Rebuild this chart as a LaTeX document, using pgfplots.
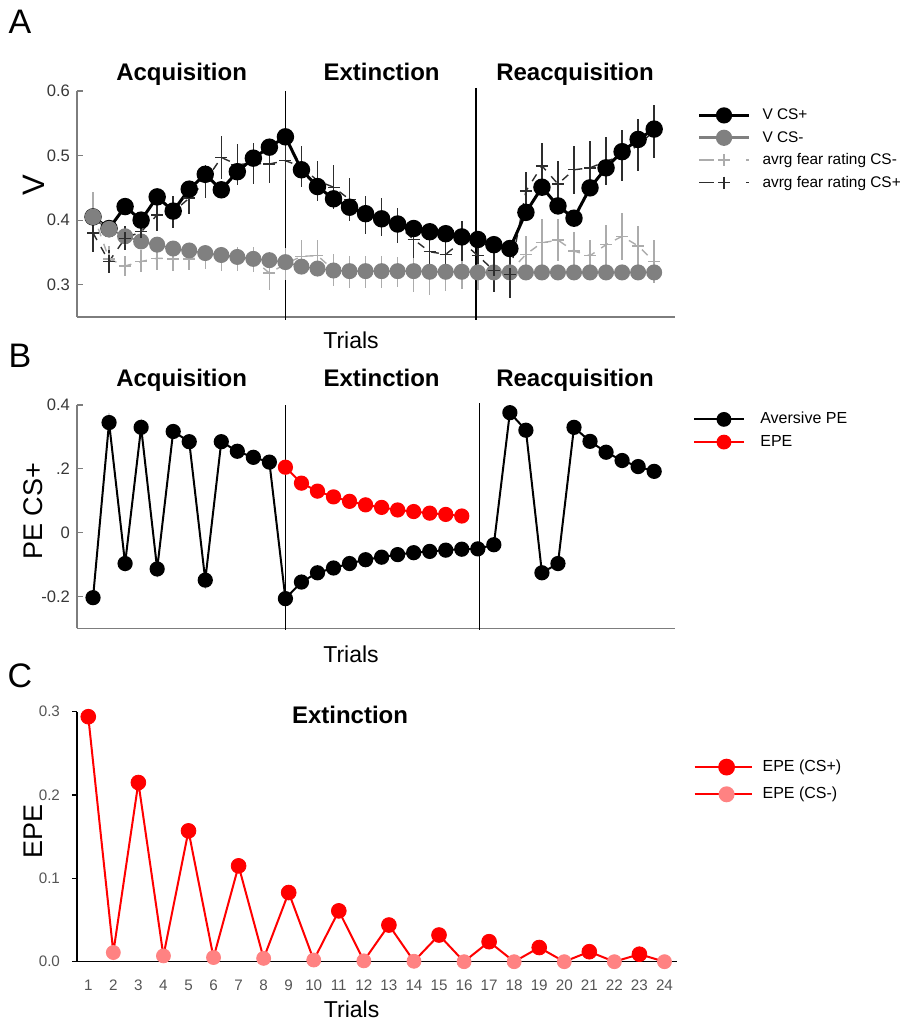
\documentclass[border=0pt]{standalone}
\usepackage{pgfplots}
\pgfplotsset{compat=1.18}
\usepackage{pgfplotstable}
\usepackage{fontspec}
\setmainfont{Liberation Sans}
\definecolor{vgray}{RGB}{128,128,128}
\definecolor{fearlight}{RGB}{172,172,172}
\definecolor{feardark}{RGB}{45,45,45}
\definecolor{pinkepe}{RGB}{255,130,130}
\definecolor{axgray}{RGB}{125,125,125}
\definecolor{ticklab}{RGB}{55,55,55}
\definecolor{ticklabC}{RGB}{85,85,85}

\pgfplotstableread{
t v
1 0.405
2 0.387
3 0.421
4 0.400
5 0.436
6 0.414
7 0.448
8 0.471
9 0.447
10 0.475
11 0.496
12 0.513
13 0.529
14 0.478
15 0.452
16 0.433
17 0.420
18 0.410
19 0.402
20 0.394
21 0.387
22 0.382
23 0.379
24 0.374
25 0.370
26 0.362
27 0.356
28 0.412
29 0.451
30 0.422
31 0.403
32 0.450
33 0.481
34 0.506
35 0.525
36 0.541
}\vplus

\pgfplotstableread{
t v
1 0.405
2 0.386
3 0.375
4 0.367
5 0.362
6 0.356
7 0.353
8 0.349
9 0.346
10 0.343
11 0.340
12 0.338
13 0.335
14 0.328
15 0.325
16 0.322
17 0.321
18 0.321
19 0.321
20 0.321
21 0.321
22 0.320
23 0.320
24 0.320
25 0.319
26 0.319
27 0.319
28 0.319
29 0.319
30 0.319
31 0.319
32 0.319
33 0.319
34 0.319
35 0.319
36 0.319
}\vminus

\pgfplotstableread{
t m e
1 0.380 0.030
2 0.336 0.018
3 0.372 0.019
4 0.382 0.018
5 0.408 0.025
6 0.413 0.025
7 0.434 0.025
8 0.460 0.025
9 0.497 0.034
10 0.486 0.032
11 0.488 0.032
12 0.487 0.030
13 0.492 0.030
14 0.483 0.032
15 0.461 0.031
16 0.451 0.034
17 0.432 0.034
18 0.408 0.030
19 0.405 0.030
20 0.392 0.027
21 0.370 0.028
22 0.351 0.031
23 0.347 0.027
24 0.367 0.031
25 0.345 0.035
26 0.322 0.034
27 0.316 0.037
28 0.445 0.030
29 0.484 0.035
30 0.456 0.035
31 0.478 0.037
32 0.481 0.041
33 0.491 0.037
34 0.500 0.039
35 0.516 0.040
36 0.538 0.041
}\fearplus

\pgfplotstableread{
t m e
1 0.410 0.034
2 0.340 0.020
3 0.329 0.016
4 0.336 0.017
5 0.341 0.018
6 0.340 0.019
7 0.340 0.017
8 0.343 0.018
9 0.340 0.019
10 0.340 0.019
11 0.339 0.019
12 0.318 0.026
13 0.332 0.025
14 0.344 0.025
15 0.345 0.025
16 0.323 0.025
17 0.320 0.025
18 0.320 0.025
19 0.320 0.025
20 0.320 0.023
21 0.315 0.027
22 0.315 0.031
23 0.318 0.027
24 0.320 0.027
25 0.322 0.030
26 0.322 0.030
27 0.320 0.030
28 0.347 0.028
29 0.365 0.036
30 0.369 0.032
31 0.352 0.030
32 0.345 0.025
33 0.362 0.031
34 0.375 0.036
35 0.360 0.031
36 0.336 0.033
}\fearminus

\pgfplotstableread{
t pe
1 -0.204
2 0.345
3 -0.097
4 0.330
5 -0.114
6 0.317
7 0.285
8 -0.149
9 0.285
10 0.255
11 0.236
12 0.221
13 -0.207
14 -0.155
15 -0.126
16 -0.111
17 -0.097
18 -0.085
19 -0.077
20 -0.069
21 -0.063
22 -0.059
23 -0.055
24 -0.052
25 -0.051
26 -0.038
27 0.376
28 0.321
29 -0.126
30 -0.097
31 0.330
32 0.286
33 0.252
34 0.226
35 0.207
36 0.192
}\avpe

\pgfplotstableread{
t epe
13 0.205
14 0.155
15 0.130
16 0.112
17 0.098
18 0.087
19 0.079
20 0.071
21 0.066
22 0.061
23 0.057
24 0.052
}\epeB

\pgfplotstableread{
t epe
1 0.294
2 0.011
3 0.215
4 0.007
5 0.157
6 0.005
7 0.115
8 0.004
9 0.083
10 0.002
11 0.061
12 0.001
13 0.044
14 0.0005
15 0.032
16 0.0
17 0.024
18 0.0
19 0.017
20 0.0
21 0.012
22 0.0
23 0.009
24 0.0
}\epeall

\pgfplotstableread{
t epe
1 0.294
3 0.215
5 0.157
7 0.115
9 0.083
11 0.061
13 0.044
15 0.032
17 0.024
19 0.017
21 0.012
23 0.009
}\epeplus

\pgfplotstableread{
t epe
2 0.011
4 0.007
6 0.005
8 0.004
10 0.002
12 0.001
14 0.0005
16 0.0
18 0.0
20 0.0
22 0.0
24 0.0
}\epeminus

\begin{document}
\begin{tikzpicture}
\path[use as bounding box] (0,0) rectangle (451pt,511pt);

% ---------------- Panel A ----------------
\begin{axis}[
  at={(38.5pt,352.5pt)}, anchor=south west,
  scale only axis, width=299pt, height=113pt,
  xmin=0, xmax=37.3, ymin=0.25, ymax=0.6,
  axis x line*=bottom, axis y line*=left,
  axis line style={-, axgray, line width=0.75pt},
  xtick=\empty, ytick={0.3,0.4,0.5,0.6}, yticklabels={0.3,0.4,0.5,0.6},
  tick align=inside, major tick length=3pt,
  tick style={axgray, line width=0.6pt},
  yticklabel style={font=\fontsize{8.3}{10}\selectfont, text=ticklab},
  clip=false,
  legend style={at={(1.037,0.927)}, anchor=north west, draw=none, fill=none,
    inner sep=0pt, font=\fontsize{7.7}{9.4}\selectfont, row sep=3.7pt,
    nodes={inner sep=0pt, text height=6pt, text depth=1.5pt},
    /tikz/every odd column/.append style={column sep=6pt}},
  legend cell align=left,
  legend image code/.code={\draw[mark repeat=2,mark phase=2,#1] plot coordinates {(0pt,0pt) (12.5pt,0pt) (25pt,0pt)};},
]
\addlegendimage{black, line width=1.5pt, mark=*, mark size=3.3pt}
\addlegendentry{V CS+}
\addlegendimage{vgray, line width=1.5pt, mark=*, mark size=3.3pt}
\addlegendentry{V CS-}
\addlegendimage{fearlight, line width=0.75pt, dash pattern=on 7.5pt off 16pt, mark=+, mark size=3pt, mark options={solid}}
\addlegendentry{avrg fear rating CS-}
\addlegendimage{feardark, line width=0.75pt, dash pattern=on 7.5pt off 16pt, mark=+, mark size=3pt, mark options={solid}}
\addlegendentry{avrg fear rating CS+}

\addplot[black, line width=0.8pt, forget plot] coordinates {(13,0.6) (13,0.245)};
\addplot[black, line width=0.8pt, forget plot] coordinates {(24.9,0.605) (24.9,0.245)};

\addplot[fearlight, line width=0.7pt, dash pattern=on 4pt off 4pt, mark=+, mark size=3pt,
  mark options={solid}, forget plot,
  error bars/.cd, y dir=both, y explicit, error mark=none,
  error bar style={fearlight, line width=0.75pt, solid}]
  table[x=t, y=m, y error=e] {\fearminus};

\addplot[vgray, line width=0.8pt, mark=*, mark size=3.6pt, forget plot] table[x=t,y=v] {\vminus};

\addplot[feardark, line width=0.7pt, dash pattern=on 4pt off 4pt, mark=+, mark size=3pt,
  mark options={solid}, forget plot,
  error bars/.cd, y dir=both, y explicit, error mark=none,
  error bar style={feardark, line width=0.75pt, solid}]
  table[x=t, y=m, y error=e] {\fearplus};

\addplot[black, line width=1.5pt, mark=*, mark size=3.6pt, forget plot] table[x=t,y=v] {\vplus};
\addplot[vgray, line width=0.8pt, mark=*, mark size=3.75pt, forget plot] coordinates {(1,0.405) (2,0.386)};
\end{axis}

% ---------------- Panel B ----------------
\begin{axis}[
  at={(38.5pt,196.85pt)}, anchor=south west,
  scale only axis, width=299pt, height=111.65pt,
  xmin=0, xmax=37.3, ymin=-0.3, ymax=0.4,
  axis x line*=bottom, axis y line*=left,
  axis line style={-, axgray, line width=0.75pt},
  xtick=\empty, ytick={-0.2,0,0.2,0.4}, yticklabels={-0.2,0,.2,0.4},
  tick align=inside, major tick length=3pt,
  tick style={axgray, line width=0.6pt},
  yticklabel style={font=\fontsize{8.3}{10}\selectfont, text=ticklab},
  clip=false,
  legend style={at={(1.030,0.971)}, anchor=north west, draw=none, fill=none,
    inner sep=0pt, font=\fontsize{8}{9.6}\selectfont, row sep=3.85pt,
    nodes={inner sep=0pt, text height=6pt, text depth=1.5pt},
    /tikz/every odd column/.append style={column sep=7.5pt}},
  legend cell align=left,
  legend image code/.code={\draw[mark repeat=2,mark phase=2,#1] plot coordinates {(0pt,0pt) (14.8pt,0pt) (25pt,0pt)};},
]
\addlegendimage{black, line width=1pt, mark=*, mark size=3.2pt}
\addlegendentry{Aversive PE}
\addlegendimage{red, line width=1pt, mark=*, mark size=3.2pt}
\addlegendentry{EPE}

\addplot[black, line width=0.7pt, forget plot] coordinates {(13,0.4) (13,-0.305)};
\addplot[black, line width=0.7pt, forget plot] coordinates {(25.1,0.405) (25.1,-0.305)};

\addplot[red, line width=1pt, mark=*, mark size=3.3pt, forget plot] table[x=t,y=epe] {\epeB};
\addplot[black, line width=1pt, mark=*, mark size=3.3pt, forget plot] table[x=t,y=pe] {\avpe};
\end{axis}

% ---------------- Panel C ----------------
\begin{axis}[
  at={(38.5pt,30.15pt)}, anchor=south west,
  scale only axis, width=300pt, height=125pt,
  xmin=0.55, xmax=24.5, ymin=0, ymax=0.3,
  axis x line*=bottom, axis y line*=left,
  axis line style={-, black, line width=0.8pt},
  xtick={1,...,24}, ytick={0,0.1,0.2,0.3}, yticklabels={0.0,0.1,0.2,0.3},
  /pgf/number format/assume math mode=true,
  tick align=outside, major tick length=2.5pt,
  ytick style={black, line width=0.6pt},
  xtick style={draw=none},
  yticklabel style={font=\fontsize{7.6}{9}\selectfont, text=ticklabC, xshift=-2.5pt},
  xticklabel style={font=\fontsize{7.6}{9}\selectfont, text=ticklabC, yshift=-3pt},
  clip=false,
  legend style={at={(1.027,0.81)}, anchor=north west, draw=none, fill=none,
    inner sep=0pt, font=\fontsize{8}{9.6}\selectfont, row sep=6.1pt,
    nodes={inner sep=0pt, text height=6pt, text depth=1.5pt},
    /tikz/every odd column/.append style={column sep=5pt}},
  legend cell align=left,
  legend image code/.code={\draw[mark repeat=2,mark phase=2,#1] plot coordinates {(0pt,0pt) (16pt,0pt) (28.5pt,0pt)};},
]
\addlegendimage{red, line width=1pt, mark=*, mark size=3.7pt}
\addlegendentry{EPE (CS+)}
\addlegendimage{red, line width=1pt, mark=*, mark size=3.5pt, mark options={draw=pinkepe, fill=pinkepe}}
\addlegendentry{EPE (CS-)}

\addplot[red, line width=1pt, forget plot] table[x=t,y=epe] {\epeall};
\addplot[only marks, mark=*, mark size=3.7pt, color=red, forget plot] table[x=t,y=epe] {\epeplus};
\addplot[only marks, mark=*, mark size=3.5pt, color=pinkepe, forget plot] table[x=t,y=epe] {\epeminus};
\end{axis}

% ---------------- Texts ----------------
\node[font=\fontsize{17}{20}\selectfont] at (10pt,500pt) {A};
\node[font=\fontsize{17}{20}\selectfont] at (10pt,333pt) {B};
\node[font=\fontsize{17}{20}\selectfont] at (10pt,173pt) {C};

\node[font=\bfseries\fontsize{12}{14}\selectfont, anchor=base] at (90.8pt,470.6pt) {Acquisition};
\node[font=\bfseries\fontsize{12}{14}\selectfont, anchor=base] at (190.8pt,470.6pt) {Extinction};
\node[font=\bfseries\fontsize{12}{14}\selectfont, anchor=base] at (287.5pt,470.6pt) {Reacquisition};

\node[font=\bfseries\fontsize{12}{14}\selectfont, anchor=base] at (90.8pt,317.6pt) {Acquisition};
\node[font=\bfseries\fontsize{12}{14}\selectfont, anchor=base] at (190.8pt,317.6pt) {Extinction};
\node[font=\bfseries\fontsize{12}{14}\selectfont, anchor=base] at (287.5pt,317.6pt) {Reacquisition};

\node[font=\bfseries\fontsize{12}{14}\selectfont, anchor=base] at (175pt,149.4pt) {Extinction};

\node[font=\fontsize{11.5}{13}\selectfont, anchor=base] at (175.5pt,336.5pt) {Trials};
\node[font=\fontsize{11.5}{13}\selectfont, anchor=base] at (175.5pt,179.5pt) {Trials};
\node[font=\fontsize{11.5}{13}\selectfont, anchor=base] at (175.8pt,2pt) {Trials};

\node[font=\fontsize{15.5}{18}\selectfont, rotate=90] at (16.7pt,418.5pt) {V};
\node[font=\fontsize{13.5}{16}\selectfont, rotate=90] at (16.7pt,255.2pt) {PE CS+};
\node[font=\fontsize{13.5}{16}\selectfont, rotate=90] at (16.7pt,95.2pt) {EPE};
\end{tikzpicture}
\end{document}
